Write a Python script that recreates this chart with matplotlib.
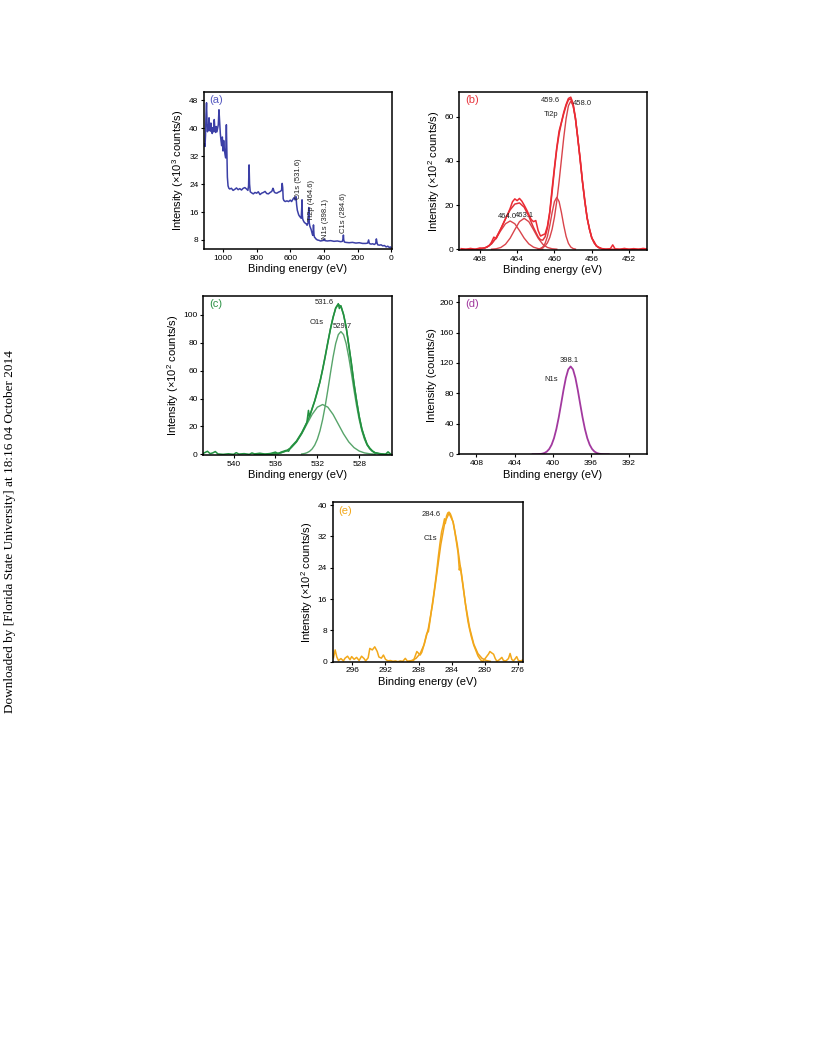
import matplotlib.pyplot as plt

plt.rcParams['font.family'] = ['Liberation Sans', 'DejaVu Sans']
plt.rcParams['mathtext.fontset'] = 'custom'
plt.rcParams['mathtext.rm'] = 'Liberation Sans'

##################
# Data (read off) #
##################

# (a) survey spectrum, binding energy (eV) -> intensity (x10^3 counts/s)
a_be = [1110, 1107, 1104, 1101, 1098, 1095, 1092, 1089, 1086, 1083,
        1080, 1076, 1072, 1068, 1064, 1060, 1056, 1052, 1048, 1044,
        1040, 1036, 1032, 1028, 1024, 1020, 1016, 1012, 1008, 1004,
        1000, 996, 992, 988, 984, 980, 977, 974, 970, 965,
        960, 950, 940, 930, 920, 910, 900, 890, 880, 870,
        860, 852, 848, 845, 842, 838, 830, 820, 810, 800,
        790, 780, 770, 760, 750, 740, 730, 720, 710, 703,
        700, 696, 690, 680, 670, 660, 652, 648, 645, 642,
        638, 630, 620, 610, 600, 592, 585, 578, 572, 566,
        562, 558, 554, 550, 545, 540, 535, 532, 530, 528,
        526, 522, 516, 510, 505, 500, 494, 490, 487, 484,
        480, 476, 472, 468, 465, 462, 459, 456, 452, 448,
        444, 440, 430, 420, 410, 400, 398, 394, 380, 360,
        340, 320, 300, 290, 286, 284, 282, 278, 270, 250,
        230, 210, 190, 170, 150, 140, 134, 130, 120, 110,
        100, 92, 88, 84, 80, 70, 60, 50, 40, 30,
        20, 10, 5, 0]
a_int = [35.5, 34.8, 38.0, 44.0, 47.3, 42.0, 39.0, 41.0, 39.5, 43.0,
         40.0, 39.2, 41.5, 39.0, 38.5, 40.2, 39.0, 42.5, 39.5, 38.8,
         40.5, 39.0, 40.0, 41.0, 45.3, 42.0, 38.5, 36.5, 35.0, 37.5,
         33.5, 36.5, 34.0, 32.5, 31.5, 41.0, 33.0, 26.0, 23.5, 22.8,
         22.6, 22.8, 22.2, 22.5, 22.9, 22.4, 22.7, 22.3, 22.8, 23.0,
         22.6, 22.2, 23.5, 29.5, 24.0, 21.8, 21.5, 21.2, 21.6, 21.4,
         21.8, 21.0, 21.4, 21.6, 21.9, 21.3, 21.2, 21.6, 21.9, 22.8,
         22.5, 21.8, 21.5, 21.4, 21.7, 21.9, 22.2, 24.2, 23.0, 19.8,
         19.3, 19.0, 19.2, 19.0, 19.4, 19.0, 19.6, 20.1, 19.5, 20.4,
         18.0, 16.5, 15.8, 15.2, 14.8, 14.5, 14.2, 17.0, 19.5, 15.0,
         14.0, 13.5, 13.0, 12.8, 12.6, 12.2, 13.0, 17.3, 13.0, 12.0,
         11.5, 11.0, 10.2, 9.5, 9.3, 12.3, 9.5, 8.8, 8.6, 8.3,
         8.2, 8.0, 7.9, 7.7, 7.8, 7.9, 8.3, 7.8, 7.7, 7.8,
         7.6, 7.7, 7.5, 7.6, 8.3, 9.4, 8.0, 7.4, 7.3, 7.2,
         7.3, 7.1, 7.2, 7.0, 7.0, 7.1, 8.0, 7.0, 6.8, 6.9,
         6.7, 7.0, 8.3, 7.2, 6.6, 6.5, 6.6, 6.3, 6.4, 6.0,
         6.2, 5.8, 6.0, 5.7]
a_labels = ['O1s (531.6)', 'Ti2p (464.6)', 'N1s (398.1)', 'C1s (284.6)']
a_label_be = [550, 472, 388, 283]
a_label_y = [19.6, 13.4, 8.3, 10.0]

# (b) Ti2p region (x10^2 counts/s)
b_raw_be = [470.0, 469.5, 469.0, 468.5, 468.0, 467.5, 467.0, 466.75, 466.5, 466.25,
            466.0, 465.5, 465.0, 464.75, 464.5, 464.25, 464.0, 463.75, 463.5, 463.25,
            463.0, 462.5, 462.25, 462.0, 461.75, 461.5, 461.25, 461.0, 460.75, 460.5,
            460.25, 460.0, 459.75, 459.5, 459.25, 459.0, 458.75, 458.5, 458.25, 458.0,
            457.75, 457.5, 457.25, 457.0, 456.75, 456.5, 456.25, 456.0, 455.75, 455.5,
            455.0, 454.5, 454.0, 453.75, 453.5, 453.0, 452.5, 452.0, 451.5, 451.0,
            450.5, 450.0]
b_raw_int = [0.3, 0.0, 0.4, 0.0, 0.6, 0.5, 1.6, 3.2, 5.5, 4.8,
             7.0, 11.5, 16.0, 18.5, 21.5, 22.8, 22.0, 23.0, 21.8, 20.0,
             18.0, 13.5, 12.5, 13.0, 8.5, 6.0, 6.5, 7.0, 10.5, 17.0,
             27.5, 37.0, 46.0, 53.5, 57.5, 62.0, 65.5, 68.2, 68.8, 66.0,
             59.5, 50.0, 41.5, 31.0, 22.5, 14.0, 9.5, 5.0, 3.5, 1.5,
             0.4, 0.0, 0.3, 2.0, 0.2, 0.0, 0.4, 0.0, 0.3, 0.0,
             0.4, 0.1]
b_env_be = [470.0, 469.25, 468.75, 468.25, 467.75, 467.25, 466.75, 466.25, 465.75, 465.25,
            464.75, 464.25, 463.75, 463.25, 462.75, 462.25, 461.75, 461.5, 461.25, 461.0,
            460.75, 460.5, 460.25, 460.0, 459.75, 459.5, 459.25, 459.0, 458.75, 458.5,
            458.25, 458.0, 457.75, 457.5, 457.25, 457.0, 456.75, 456.5, 456.25, 456.0,
            455.75, 455.5, 455.25, 455.0, 454.75, 454.0, 450.0]
b_env_int = [0.0, 0.0, 0.02, 0.08, 0.31, 0.97, 2.5, 5.3, 9.29, 13.83,
             17.84, 20.44, 20.97, 19.06, 14.95, 9.86, 5.59, 4.32, 4.13, 5.66,
             9.62, 16.55, 25.91, 36.17, 45.35, 52.25, 57.2, 61.37, 64.96, 67.58,
             68.03, 65.23, 59.19, 50.6, 40.6, 30.7, 21.8, 14.5, 9.07, 5.33,
             2.94, 1.53, 0.74, 0.34, 0.15, 0.02, 0.0]
b_c1_be = [468.25, 467.75, 467.25, 466.75, 466.25, 465.75, 465.25, 464.75,
           464.25, 463.75, 463.25, 462.75, 462.25, 461.75, 461.25]
b_c1_int = [0.08, 0.31, 0.97, 2.45, 5.06, 8.47, 11.55, 12.8,
            11.55, 8.47, 5.06, 2.45, 0.97, 0.31, 0.08]
b_c2_be = [466.75, 466.25, 465.75, 465.25, 464.75, 464.25, 463.75, 463.25,
           462.75, 462.25, 461.75, 461.25, 460.75, 460.25, 459.75]
b_c2_int = [0.05, 0.24, 0.82, 2.28, 5.04, 8.89, 12.5, 14.0,
            12.5, 8.89, 5.04, 2.28, 0.82, 0.24, 0.05]
b_c3_be = [461.75, 461.5, 461.25, 461.0, 460.75, 460.5, 460.25, 460.0, 459.75,
           459.5, 459.25, 459.0, 458.75, 458.5, 458.25, 458.0, 457.75]
b_c3_int = [0.09, 0.33, 1.03, 2.68, 5.86, 10.77, 16.6, 21.55, 23.5,
            21.55, 16.6, 10.77, 5.86, 2.68, 1.03, 0.33, 0.09]
b_c4_be = [461.75, 461.5, 461.25, 461.0, 460.75, 460.5, 460.25, 460.0, 459.75, 459.5,
           459.25, 459.0, 458.75, 458.5, 458.25, 458.0, 457.75, 457.5, 457.25, 457.0,
           456.75, 456.5, 456.25, 456.0, 455.75, 455.5, 455.25, 455.0, 454.75]
b_c4_int = [0.15, 0.34, 0.74, 1.53, 2.94, 5.33, 9.07, 14.5, 21.8, 30.7,
            40.6, 50.6, 59.1, 64.9, 67.0, 64.9, 59.1, 50.6, 40.6, 30.7,
            21.8, 14.5, 9.07, 5.33, 2.94, 1.53, 0.74, 0.34, 0.15]
b_labels = ['459.6', '458.0', 'Ti2p', '464.0', '463.1']
b_label_be = [460.4, 457.0, 460.4, 465.1, 463.2]
b_label_y = [67.5, 66.0, 60.8, 14.7, 15.3]

# (c) O1s region (x10^2 counts/s)
c_raw_be = [543.0, 542.5, 542.25, 542.0, 541.75, 541.5, 541.0, 540.5, 540.0, 539.75,
            539.5, 539.0, 538.5, 538.25, 538.0, 537.5, 537.0, 536.5, 536.0, 535.75,
            535.5, 535.0, 534.75, 534.5, 534.0, 533.5, 533.0, 532.85, 532.75, 532.5,
            532.25, 532.0, 531.75, 531.5, 531.25, 531.0, 530.75, 530.5, 530.25, 530.0,
            529.9, 529.75, 529.5, 529.25, 529.0, 528.75, 528.5, 528.25, 528.0, 527.75,
            527.5, 527.25, 527.0, 526.75, 526.5, 526.0, 525.5, 525.25, 525.0]
c_raw_int = [0.3, 2.2, 0.5, 1.0, 2.0, 0.3, 0.0, 0.4, 0.0, 1.2,
             0.2, 0.5, 0.0, 1.0, 0.3, 0.8, 0.2, 0.6, 1.6, 0.4,
             1.5, 2.8, 2.2, 5.5, 9.5, 15.5, 23.0, 31.5, 27.0, 33.0,
             38.5, 45.5, 52.0, 61.0, 70.5, 80.5, 90.0, 98.0, 105.0, 108.0,
             104.5, 106.5, 100.0, 91.5, 78.0, 65.5, 50.5, 38.5, 27.0, 18.0,
             12.5, 7.0, 4.5, 2.5, 1.0, 0.5, 0.0, 1.8, 0.2]
c_env_be = [538.0, 537.0, 536.5, 536.0, 535.5, 535.0, 534.5, 534.0, 533.5, 533.25,
            533.0, 532.75, 532.5, 532.25, 532.0, 531.75, 531.5, 531.25, 531.0, 530.75,
            530.5, 530.25, 530.0, 529.75, 529.5, 529.25, 529.0, 528.75, 528.5, 528.25,
            528.0, 527.75, 527.5, 527.25, 527.0, 526.75, 526.5, 526.0, 525.5, 525.0]
c_env_int = [0.0, 0.04, 0.14, 0.40, 1.02, 2.35, 4.83, 8.89, 14.93, 18.62,
             22.77, 27.34, 32.46, 38.15, 44.66, 52.05, 60.5, 69.9, 79.9, 89.7,
             98.3, 104.6, 107.45, 106.07, 100.47, 91.0, 78.59, 64.85, 50.93, 38.11,
             27.15, 18.42, 11.88, 7.29, 4.26, 2.38, 1.26, 0.3, 0.1, 0.0]
c_c1_be = [536.5, 536.0, 535.5, 535.0, 534.5, 534.0, 533.5, 533.0, 532.5, 532.0, 531.5,
           531.0, 530.5, 530.0, 529.5, 529.0, 528.5, 528.0, 527.5, 527.0, 526.5]
c_c1_int = [0.14, 0.40, 1.02, 2.35, 4.83, 8.89, 14.67, 21.65, 28.6, 33.8, 35.7,
            33.8, 28.6, 21.65, 14.67, 8.89, 4.83, 2.35, 1.02, 0.40, 0.14]
c_c2_be = [533.5, 533.25, 533.0, 532.75, 532.5, 532.25, 532.0, 531.75, 531.5, 531.25,
           531.0, 530.75, 530.5, 530.25, 530.0, 529.75, 529.5, 529.25, 529.0, 528.75,
           528.5, 528.25, 528.0, 527.75, 527.5, 527.25, 527.0, 526.75, 526.5, 526.25,
           526.0]
c_c2_int = [0.26, 0.55, 1.12, 2.14, 3.86, 6.65, 10.86, 16.85, 24.8, 34.7,
            46.1, 58.2, 69.7, 79.4, 85.8, 88.0, 85.8, 79.4, 69.7, 58.2,
            46.1, 34.7, 24.8, 16.85, 10.86, 6.65, 3.86, 2.14, 1.12, 0.55,
            0.26]
c_labels = ['531.6', '529.7', 'O1s']
c_label_be = [531.3, 529.6, 532.1]
c_label_y = [108.8, 91.7, 94.5]

# (d) N1s region (counts/s)
d_be = [402.1, 401.85, 401.6, 401.35, 401.1, 400.85, 400.6, 400.35, 400.1, 399.85,
        399.6, 399.35, 399.1, 398.85, 398.6, 398.35, 398.1, 397.85, 397.6, 397.35,
        397.1, 396.85, 396.6, 396.35, 396.1, 395.85, 395.6, 395.35, 395.1, 394.85,
        394.6, 394.35, 394.1]
d_int = [0.01, 0.05, 0.13, 0.33, 0.78, 1.74, 3.61, 6.98, 12.58, 21.15,
         33.2, 48.6, 66.3, 84.5, 100.5, 111.5, 115.4, 111.5, 100.5, 84.5,
         66.3, 48.6, 33.2, 21.15, 12.58, 6.98, 3.61, 1.74, 0.78, 0.33,
         0.13, 0.05, 0.01]
d_labels = ['398.1', 'N1s']
d_label_be = [398.2, 400.1]
d_label_y = [123, 97.8]

# (e) C1s region (x10^2 counts/s)
e_raw_be = [298.3, 298.1, 297.9, 297.7, 297.4, 297.1, 296.9, 296.6, 296.3, 296.1,
            295.8, 295.5, 295.2, 294.9, 294.6, 294.4, 294.1, 293.9, 293.6, 293.3,
            293.0, 292.8, 292.5, 292.25, 292.0, 291.7, 291.4, 291.1, 290.8, 290.5,
            290.2, 289.9, 289.6, 289.3, 289.0, 288.6, 288.2, 287.8, 287.6, 287.4,
            287.2, 287.0, 286.8, 286.6, 286.4, 286.2, 286.0, 285.8, 285.6, 285.4,
            285.2, 285.0, 284.85, 284.75, 284.6, 284.45, 284.3, 284.15, 284.0, 283.8,
            283.6, 283.4, 283.2, 283.05, 282.95, 282.8, 282.6, 282.4, 282.2, 282.0,
            281.8, 281.6, 281.3, 281.0, 280.8, 280.6, 280.4, 280.2, 280.0, 279.75,
            279.5, 279.35, 279.1, 278.9, 278.7, 278.5, 278.2, 277.9, 277.7, 277.4,
            277.1, 276.9, 276.7, 276.5, 276.3, 276.1, 275.9, 275.6, 275.3]
e_raw_int = [1.0, 3.0, 1.2, 0.3, 0.8, 0.2, 0.9, 1.4, 0.5, 1.3,
             0.6, 1.1, 0.3, 1.4, 0.8, 0.2, 1.0, 3.4, 3.0, 3.8,
             2.6, 1.2, 0.9, 1.7, 0.6, 0.2, 0.3, 0.1, 0.2, 0.0,
             0.2, 0.1, 0.85, 0.0, 0.2, 0.3, 2.6, 1.7, 2.4, 3.8,
             5.5, 7.2, 7.7, 10.5, 13.6, 16.5, 19.6, 23.0, 26.8, 30.2,
             33.2, 34.9, 36.5, 35.3, 37.2, 38.0, 38.2, 37.8, 37.0, 35.5,
             33.2, 30.5, 27.7, 23.4, 24.5, 22.6, 19.5, 16.2, 13.0, 10.2,
             8.2, 6.4, 4.2, 2.6, 1.5, 0.85, 0.3, 0.1, 0.6, 1.3,
             2.0, 2.6, 2.2, 1.9, 0.8, 0.1, 0.5, 1.1, 0.3, 0.2,
             0.8, 2.1, 0.6, 0.2, 0.7, 1.3, 0.3, 0.2, 0.5]
e_fit_be = [289.3, 288.8, 288.3, 287.8, 287.3, 286.8, 286.3, 285.8, 285.3, 284.8, 284.3,
            283.8, 283.3, 282.8, 282.3, 281.8, 281.3, 280.8, 280.3, 279.8, 279.3]
e_fit_int = [0.10, 0.31, 0.85, 2.06, 4.46, 8.58, 14.6, 22.2, 29.9, 35.7, 37.9,
             35.7, 29.9, 22.2, 14.6, 8.58, 4.46, 2.06, 0.85, 0.31, 0.10]
e_labels = ['284.6', 'C1s']
e_label_be = [286.5, 286.5]
e_label_y = [37.6, 31.5]


###########
# Helpers #
###########

def style_axes(ax, xlim, ylim, xticks, yticks, ylabel):
    ax.set_xlim(*xlim)
    ax.set_ylim(*ylim)
    ax.set_xticks(xticks)
    ax.set_yticks(yticks)
    ax.tick_params(direction='out', length=2.5, width=0.8, pad=1.5, labelsize=6)
    for spine in ax.spines.values():
        spine.set_linewidth(1.1)
    ax.set_xlabel('Binding energy (eV)', fontsize=8, labelpad=2)
    ax.set_ylabel(ylabel, fontsize=8, labelpad=2)


def add_labels(ax, labels, xs, ys, **kw):
    for text, x, y in zip(labels, xs, ys):
        ax.text(x, y, text, fontsize=5.5, color='#222222', ha='center', va='center', **kw)


def panel_tag(ax, tag, color):
    ax.text(0.03, 0.98, tag, transform=ax.transAxes, fontsize=8,
            color=color, ha='left', va='top')


##########
# Figure #
##########

fig = plt.figure(figsize=(8.16, 10.56), dpi=100)

# (a) survey
ax = fig.add_axes([0.2500, 0.7642, 0.2304, 0.1487])
ax.plot(a_be, a_int, color='#3b3fa6', lw=1.1)
for text, x, y in zip(a_labels, a_label_be, a_label_y):
    ax.text(x, y, text, fontsize=5.5, color='#222222', rotation=90,
            ha='center', va='bottom')
style_axes(ax, (1113, -5), (5.4, 50.4), [1000, 800, 600, 400, 200, 0],
           [8, 16, 24, 32, 40, 48], 'Intensity (×10$^3$ counts/s)')
panel_tag(ax, '(a)', '#5559c0')

# (b) Ti2p
ax = fig.add_axes([0.5629, 0.7633, 0.2297, 0.1493])
for be, inten in [(b_c1_be, b_c1_int), (b_c2_be, b_c2_int),
                  (b_c3_be, b_c3_int), (b_c4_be, b_c4_int)]:
    ax.plot(be, inten, color='#d9444b', lw=1.0)
ax.plot(b_env_be, b_env_int, color='#e0333b', lw=1.1)
ax.plot(b_raw_be, b_raw_int, color='#ec2a33', lw=1.1)
add_labels(ax, b_labels, b_label_be, b_label_y)
style_axes(ax, (470.2, 450.1), (-0.3, 71), [468, 464, 460, 456, 452],
           [0, 20, 40, 60], 'Intensity (×10$^2$ counts/s)')
panel_tag(ax, '(b)', '#e8373f')

# (c) O1s
ax = fig.add_axes([0.2491, 0.5691, 0.2309, 0.1506])
for be, inten in [(c_c1_be, c_c1_int), (c_c2_be, c_c2_int)]:
    ax.plot(be, inten, color='#57a46a', lw=1.0)
ax.plot(c_env_be, c_env_int, color='#2f9448', lw=1.1)
ax.plot(c_raw_be, c_raw_int, color='#22913f', lw=1.1)
add_labels(ax, c_labels, c_label_be, c_label_y)
style_axes(ax, (542.9, 524.9), (-0.5, 113.5), [540, 536, 532, 528],
           [0, 20, 40, 60, 80, 100], 'Intensity (×10$^2$ counts/s)')
panel_tag(ax, '(c)', '#2f9448')

# (d) N1s
ax = fig.add_axes([0.5629, 0.5698, 0.2297, 0.1499])
ax.plot(d_be, d_int, color='#a2399f', lw=1.3)
add_labels(ax, d_labels, d_label_be, d_label_y)
style_axes(ax, (409.8, 390.1), (0, 208), [408, 404, 400, 396, 392],
           [0, 40, 80, 120, 160, 200], 'Intensity (counts/s)')
panel_tag(ax, '(d)', '#a2399f')

# (e) C1s
ax = fig.add_axes([0.4077, 0.3734, 0.2336, 0.1509])
ax.plot(e_fit_be, e_fit_int, color='#eea21c', lw=1.1)
ax.plot(e_raw_be, e_raw_int, color='#f2a81a', lw=1.1)
add_labels(ax, e_labels, e_label_be, e_label_y)
style_axes(ax, (298.4, 275.3), (0, 40.7), [296, 292, 288, 284, 280, 276],
           [0, 8, 16, 24, 32, 40], 'Intensity (×10$^2$ counts/s)')
panel_tag(ax, '(e)', '#f2a81a')

fig.text(0.0123, 0.497, 'Downloaded by [Florida State University] at 18:16 04 October 2014',
         family='Liberation Serif', fontsize=9.5, rotation=90, ha='center', va='center')

fig.savefig('out.png', dpi=100)
plt.close(fig)
